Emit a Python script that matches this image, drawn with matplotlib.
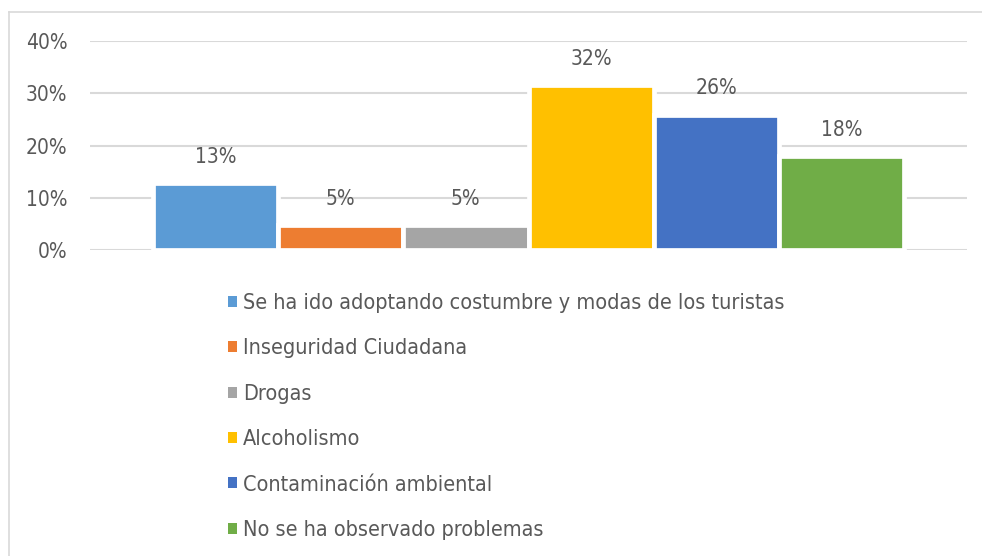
import matplotlib
matplotlib.use("Agg")
import matplotlib.pyplot as plt
from matplotlib.patches import Patch
from matplotlib.lines import Line2D
from matplotlib.ticker import FuncFormatter

categories = [
    "Se ha ido adoptando costumbre y modas de los turistas",
    "Inseguridad Ciudadana",
    "Drogas",
    "Alcoholismo",
    "Contaminación ambiental",
    "No se ha observado problemas",
]
values = [12.8, 4.8, 4.8, 31.6, 25.9, 18.0]
colors = ["#5B9BD5", "#ED7D31", "#A5A5A5", "#FFC000", "#4472C4", "#70AD47"]
yticks = [0, 10, 20, 30, 40]

plt.rcParams['font.family'] = ['DejaVu Sans']
plt.rcParams['font.stretch'] = 'condensed'
TXT = "#595959"
FS = 15
LFS = 15.5

W, H = 982, 556
fig = plt.figure(figsize=(W / 100, H / 100), dpi=100)
fig.patch.set_facecolor("white")

ax = fig.add_axes([90 / W, 1 - 250 / H, (967 - 90) / W, (250 - 41) / H])
x = list(range(len(values)))
ax.bar(x, values, width=1.0, color=colors, edgecolor="white", linewidth=3.4, zorder=3)
ax.set_xlim(-1, 6)
ax.set_ylim(0, 40)
ax.set_yticks(yticks)
ax.yaxis.set_major_formatter(FuncFormatter(lambda v, p: f"{v:.0f}%"))
ax.set_xticks([])
ax.tick_params(axis="y", length=0, pad=16.3, labelsize=FS, labelcolor=TXT)
ax.grid(axis="y", color="#D9D9D9", linewidth=1.5, zorder=0)
for s in ax.spines.values():
    s.set_visible(False)

for xi, v in zip(x, values):
    ax.annotate(f"{v:.0f}%", (xi, v), xytext=(0, 19.0), textcoords="offset points",
                ha="center", va="center", fontsize=FS, color=TXT, zorder=4)

handles = [Patch(facecolor=c, edgecolor="none") for c in colors]
fig.legend(handles, categories, loc="upper left", bbox_to_anchor=(228 / W, 1 - 293 / H),
           frameon=False, fontsize=LFS, labelcolor=TXT, handlelength=0.4, handleheight=0.4,
           handletextpad=0.3, labelspacing=1.18, borderpad=0, borderaxespad=0)

# outer chart frame
fig.add_artist(Line2D([9 / W, 1], [1 - 12 / H, 1 - 12 / H], transform=fig.transFigure,
                      color="#D9D9D9", linewidth=1.2))
fig.add_artist(Line2D([9 / W, 9 / W], [0, 1 - 12 / H], transform=fig.transFigure,
                      color="#D9D9D9", linewidth=1.2))

fig.savefig("out.png", dpi=100, facecolor="white")
